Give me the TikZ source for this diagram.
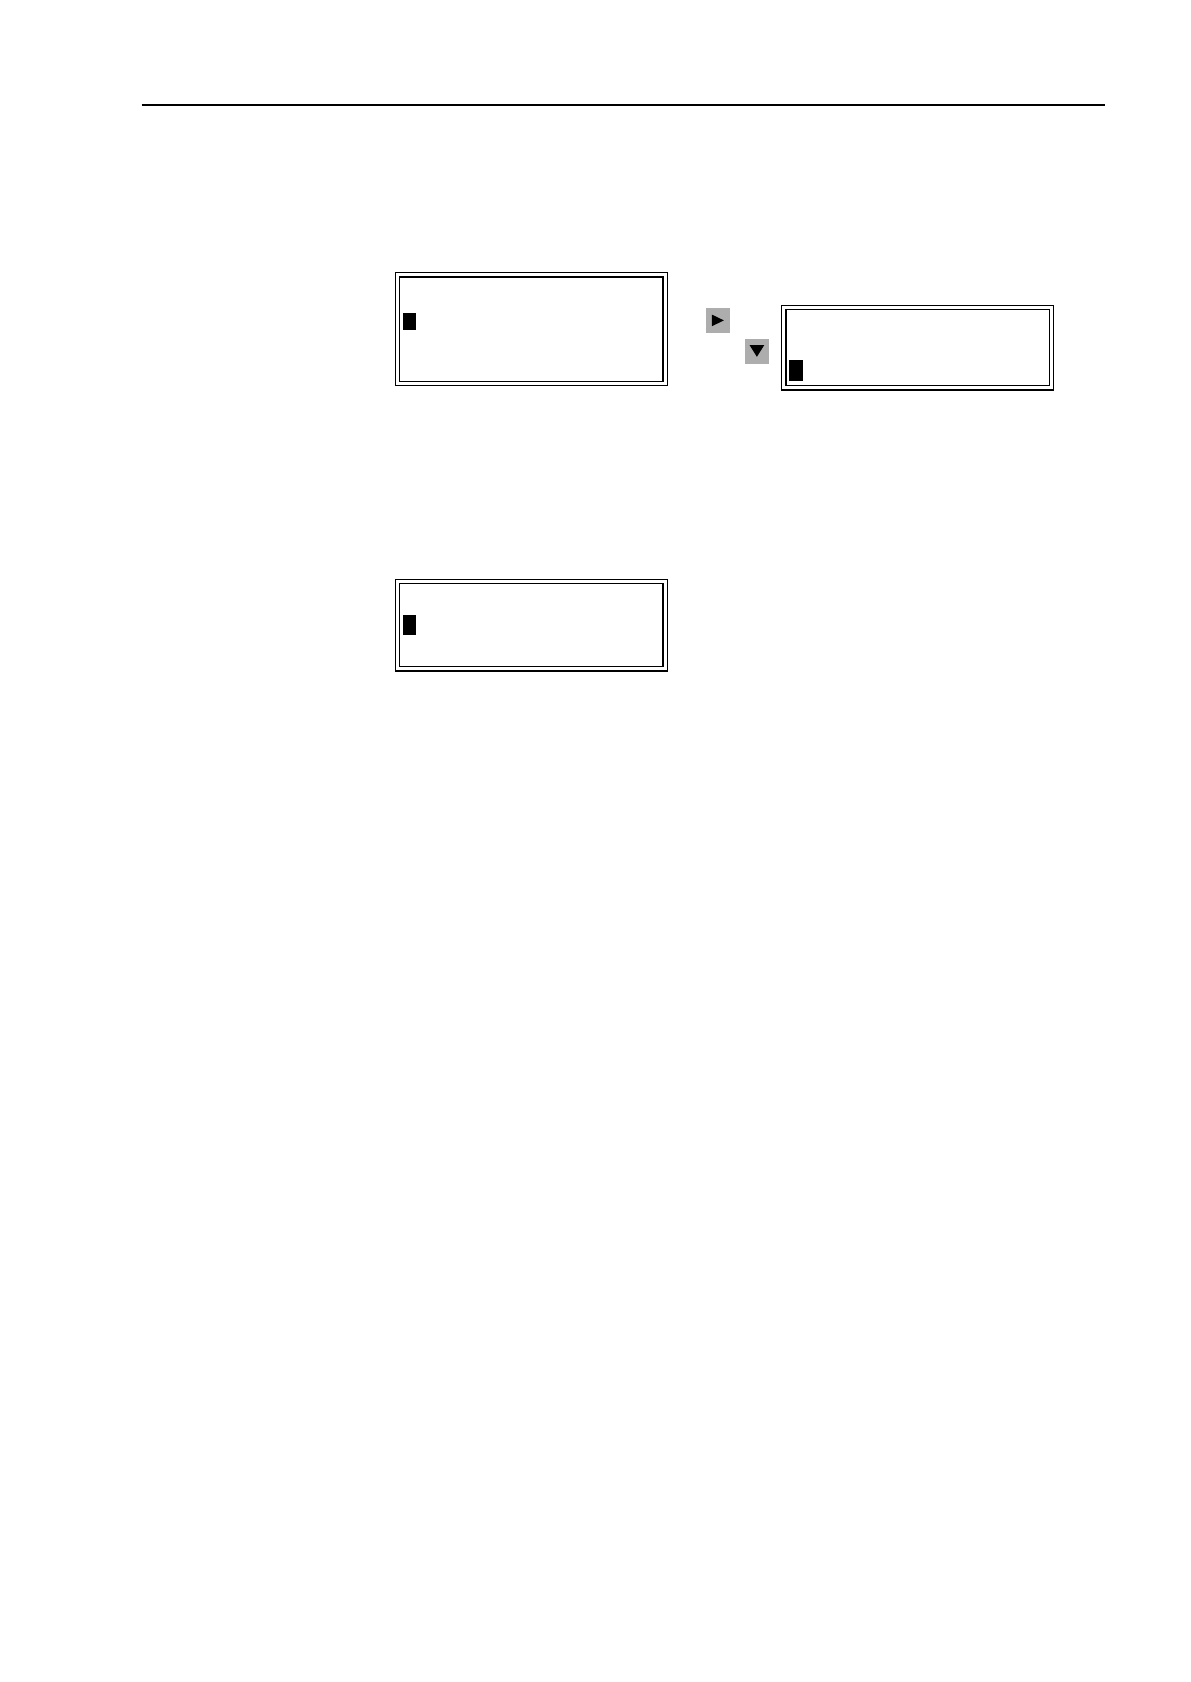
\documentclass[tikz,border=0pt]{standalone}
\usepackage{tikz}
\usetikzlibrary{calc,positioning}

\tikzset{
    screen/.style={draw, double, double distance=1.5pt, line width=0.65pt,
        minimum width=133.9pt, inner sep=0pt},
    cursor/.style={fill=black, inner sep=0pt, minimum width=6.5pt},
    keybox/.style={fill=black!32, inner sep=0pt, minimum width=11.9pt, minimum height=12.3pt}
}

\begin{document}
\begin{tikzpicture}[x=0.5pt,y=-0.5pt]

    \useasboundingbox (0,0) rectangle (1190,1682);

    \draw[line width=0.7pt] (141.6,105) -- (1105,105);

    \node[screen, minimum height=54.4pt] (disp1) at (531.2,329.2) {};
    \node[cursor, minimum height=8.5pt] (cur1) at (409.5,321.5) {};

    \node[keybox] (keyright) at (717.9,320.4) {};
    \fill ([shift={(keyright.center)}]-6,-5.8) -- ([shift={(keyright.center)}]-6,5.8)
        -- ([shift={(keyright.center)}]6,0) -- cycle;
    \node[keybox] (keydown) at (756.9,351.2) {};
    \fill ([shift={(keydown.center)}]-7.3,-6) -- ([shift={(keydown.center)}]7.3,-6)
        -- ([shift={(keydown.center)}]0,5.6) -- cycle;

    \node[screen, minimum height=40.1pt] (disp2) at (917.7,347.6) {};
    \node[cursor, minimum width=7pt, minimum height=10.3pt] (cur2) at (796,370.3) {};

    \node[screen, minimum height=43.6pt] (disp3) at (531.2,625.1) {};
    \node[cursor, minimum height=10pt] (cur3) at (409.5,625) {};

\end{tikzpicture}
\end{document}
